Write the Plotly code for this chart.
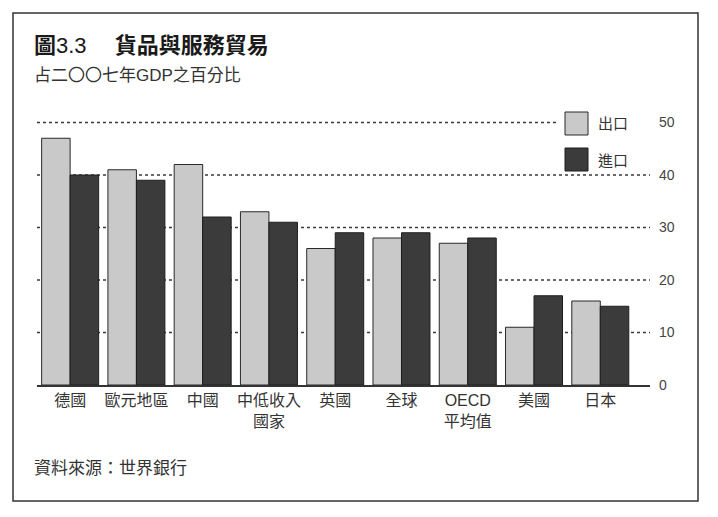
import plotly.graph_objects as go

categories = ["德國", "歐元地區", "中國", "中低收入<br>國家", "英國", "全球", "OECD<br>平均值", "美國", "日本"]
exports = [47, 41, 42, 33, 26, 28, 27, 11, 16]
imports = [40, 39, 32, 31, 29, 29, 28, 17, 15]
y_ticks = [0, 10, 20, 30, 40, 50]
series_names = ["出口", "進口"]

FONT = "Liberation Sans, Noto Sans CJK TC, sans-serif"
OFF = 8  # page body margin
W, H = 718 - 2 * OFF, 517 - 2 * OFF
L, R, T, B = 37 - OFF, 650 - OFF, 112 - OFF, 385 - OFF  # plot area in figure pixels


def px(x):
    return (x - OFF - L) / (R - L)


def py(y):
    return (B - (y - OFF)) / (B - T)


fig = go.Figure()
fig.add_trace(go.Bar(x=categories, y=exports, name=series_names[0],
                     marker=dict(color="#c9c9c9", line=dict(color="#2a2a2a", width=1))))
fig.add_trace(go.Bar(x=categories, y=imports, name=series_names[1],
                     marker=dict(color="#3b3b3b", line=dict(color="#1e1e1e", width=1))))

shapes = []
for v in y_ticks[1:]:
    x1 = px(557) if v == 50 else 1
    shapes.append(dict(type="line", xref="paper", yref="y", x0=0, x1=x1, y0=v, y1=v,
                       line=dict(color="#3a3a3a", width=1.3, dash="dot"), layer="below"))
shapes.append(dict(type="rect", xref="paper", yref="paper", x0=px(13), x1=px(698),
                   y0=py(501), y1=py(13), line=dict(color="#333", width=1.5)))
shapes.append(dict(type="rect", xref="paper", yref="paper", x0=px(565), x1=px(588),
                   y0=py(135), y1=py(112), fillcolor="#c9c9c9", line=dict(color="#2a2a2a", width=1)))
shapes.append(dict(type="rect", xref="paper", yref="paper", x0=px(565), x1=px(588),
                   y0=py(171), y1=py(148), fillcolor="#3b3b3b", line=dict(color="#1e1e1e", width=1)))


def ann(text, x, y, size, color="#333"):
    return dict(text=text, x=px(x), y=py(y), xref="paper", yref="paper",
                xanchor="left", yanchor="middle", showarrow=False,
                font=dict(family=FONT, size=size, color=color))


annotations = [
    ann("<b>圖</b>3.3　 <b>貨品與服務貿易</b>", 32, 46, 22, "#1a1a1a"),
    ann("占二〇〇七年GDP之百分比", 32, 75, 17),
    ann("資料來源：世界銀行", 32, 468, 17),
    ann(series_names[0], 596, 124, 15),
    ann(series_names[1], 596, 160, 15),
]

fig.update_layout(
    width=W, height=H,
    margin=dict(l=L, r=W - R, t=T, b=H - B, autoexpand=False),
    paper_bgcolor="white", plot_bgcolor="rgba(0,0,0,0)",
    barmode="group", bargap=0.14, bargroupgap=0,
    showlegend=False,
    shapes=shapes, annotations=annotations,
    font=dict(family=FONT, color="#333"),
    xaxis=dict(range=[-0.5, 8.75], showgrid=False, showline=True, linecolor="#333", linewidth=1.5,
               ticks="", tickfont=dict(family=FONT, size=16, color="#333")),
    yaxis=dict(range=[0, 52], side="right", showgrid=False, zeroline=False, showline=False,
               tickvals=y_ticks, ticks="", ticklabelstandoff=8,
               tickfont=dict(family=FONT, size=14, color="#444")),
)

fig.write_html("out.html")
